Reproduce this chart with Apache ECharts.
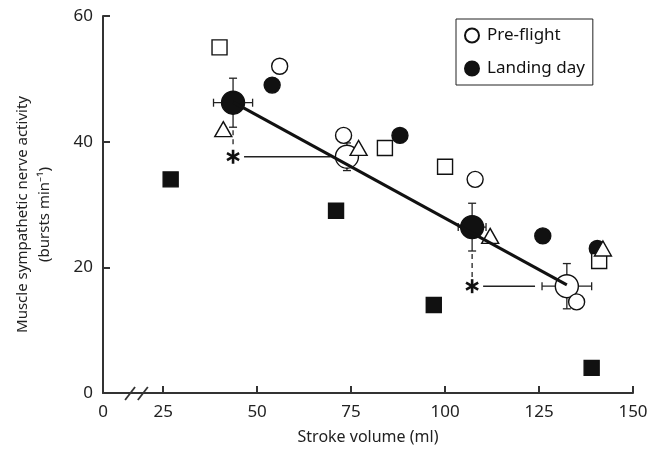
<!DOCTYPE html>
<html>
<head>
<meta charset="utf-8">
<style>
  html, body { margin: 0; padding: 0; background: #fff; }
  #chart { width: 660px; height: 456px; }
</style>
<script src="https://cdn.jsdelivr.net/npm/echarts@6/dist/echarts.min.js"></script>
</head>
<body>
<div id="chart"></div>
<script>
// broken x axis: value xMin sits on the y axis and is labelled "0"
const xMin = 9;
const xTickValues = [xMin, 25, 50, 75, 100, 125, 150];
const xTickLabels = ['0', '25', '50', '75', '100', '125', '150'];
const yTicks = [0, 20, 40, 60];
const breakMarks = [[16.2, 0], [19.6, 0]];

// individual subjects [stroke volume, MSNA]
const openSquares = [[40, 55], [84, 39], [100, 36], [141, 21]];
const openCircles = [[56, 52], [73, 41], [108, 34], [135, 14.5]];
const openTriangles = [[41, 42], [77, 39], [112, 25], [142, 23]];
const filledSquares = [[27, 34], [71, 29], [97, 14], [139, 4]];
const filledCircles = [[54, 49], [88, 41], [126, 25], [140.5, 23]];

// group means [x, y, xErr, yErr]
const preflightMean = [[73.9, 37.6, 2.5, 2.2], [132.4, 17.0, 6.6, 3.6]];
const landingMean = [[43.6, 46.2, 5.2, 3.9], [107.2, 26.4, 3.7, 3.8]];
const regressionLine = [[43.6, 46.3], [132.4, 17.2]];

// asterisk links: landing mean x, bottom of its error bar, left end of preflight error bar, preflight y
const comparisons = landingMean.map((l, i) => {
  const p = preflightMean[i];
  return [l[0], l[1] - l[3], p[0] - p[2], p[1]];
});

const ink = '#111';
const font = 'Noto Sans';

function seg(x1, y1, x2, y2, style) {
  return { type: 'line', shape: { x1, y1, x2, y2 }, style };
}

function renderErrorBars(params, api) {
  const x = api.value(0), y = api.value(1), ex = api.value(2), ey = api.value(3);
  const c = api.coord([x, y]);
  const l = api.coord([x - ex, y]);
  const r = api.coord([x + ex, y]);
  const t = api.coord([x, y + ey]);
  const b = api.coord([x, y - ey]);
  const cap = 4;
  const st = { stroke: '#222', lineWidth: 1.3 };
  return {
    type: 'group',
    children: [
      seg(l[0], c[1], r[0], c[1], st),
      seg(l[0], c[1] - cap, l[0], c[1] + cap, st),
      seg(r[0], c[1] - cap, r[0], c[1] + cap, st),
      seg(c[0], t[1], c[0], b[1], st),
      seg(c[0] - cap, t[1], c[0] + cap, t[1], st),
      seg(c[0] - cap, b[1], c[0] + cap, b[1], st)
    ]
  };
}

function renderComparison(params, api) {
  const star = api.coord([api.value(0), api.value(3)]);
  const top = api.coord([api.value(0), api.value(1)]);
  const end = api.coord([api.value(2), api.value(3)]);
  const children = [
    seg(star[0], top[1] + 3, star[0], star[1] - 9, { stroke: '#222', lineWidth: 1.3, lineDash: [5, 4] }),
    seg(star[0] + 11, star[1], end[0] - 7, star[1], { stroke: '#222', lineWidth: 1.5 })
  ];
  [90, 30, 150].forEach(a => {
    const rad = a * Math.PI / 180, r = 7;
    children.push(seg(star[0] - r * Math.cos(rad), star[1] - r * Math.sin(rad),
      star[0] + r * Math.cos(rad), star[1] + r * Math.sin(rad), { stroke: ink, lineWidth: 2.6 }));
  });
  return { type: 'group', children };
}

function renderBreak(params, api) {
  const p = api.coord([api.value(0), api.value(1)]);
  return seg(p[0] - 5, p[1] + 7, p[0] + 5, p[1] - 6, { stroke: '#333', lineWidth: 1.8 });
}

function scatter(name, data, symbol, size, filled) {
  return {
    name, type: 'scatter', data, symbol, symbolSize: size,
    itemStyle: { color: filled ? ink : '#fff', borderColor: ink, borderWidth: 1.4, opacity: 1 }
  };
}

const chart = echarts.init(document.getElementById('chart'));
chart.setOption({
  animation: false,
  backgroundColor: '#fff',
  grid: { left: 103, right: 27, top: 16, bottom: 63, containLabel: false, outerBoundsMode: 'none' },
  legend: {
    data: ['Pre-flight', 'Landing day'],
    orient: 'vertical',
    left: 456, top: 19,
    padding: [7, 8, 7, 8],
    itemGap: 14,
    itemWidth: 14, itemHeight: 14,
    icon: 'circle',
    borderColor: '#222', borderWidth: 1,
    textStyle: { fontFamily: font, fontSize: 17, color: ink, lineHeight: 19, padding: [0, 0, 0, 3] }
  },
  xAxis: {
    type: 'value', min: xMin, max: 150,
    name: 'Stroke volume (ml)', nameLocation: 'middle', nameGap: 36,
    nameTextStyle: { fontFamily: font, fontSize: 16, color: '#222' },
    axisLine: { lineStyle: { color: '#333', width: 2 } },
    axisTick: { inside: true, length: 7, lineStyle: { color: '#333', width: 2 }, customValues: xTickValues.slice(1) },
    axisLabel: {
      customValues: xTickValues, margin: 11,
      fontFamily: font, fontSize: 17, color: '#222',
      formatter: v => xTickLabels[xTickValues.indexOf(v)]
    },
    splitLine: { show: false }
  },
  yAxis: {
    type: 'value', min: yTicks[0], max: yTicks[yTicks.length - 1], interval: 20,
    name: 'Muscle sympathetic nerve activity\n(bursts min⁻¹)',
    nameLocation: 'middle', nameRotate: 90, nameGap: 47,
    nameTextStyle: { fontFamily: font, fontSize: 15, color: '#222', lineHeight: 22, align: 'center', padding: [0, 20, 0, 0] },
    axisLine: { show: true, lineStyle: { color: '#333', width: 2 } },
    axisTick: { show: true, inside: true, length: 7, lineStyle: { color: '#333', width: 2 } },
    axisLabel: { margin: 10, fontFamily: font, fontSize: 17, color: '#222' },
    splitLine: { show: false }
  },
  series: [
    {
      type: 'custom', renderItem: renderBreak, data: breakMarks, clip: false, silent: true
    },
    {
      type: 'line', data: regressionLine, symbol: 'none',
      lineStyle: { color: ink, width: 3 }
    },
    {
      type: 'custom', renderItem: renderErrorBars, data: landingMean.concat(preflightMean),
      encode: { x: 0, y: 1 }, silent: true
    },
    {
      type: 'custom', renderItem: renderComparison, data: comparisons,
      encode: { x: 0, y: 1 }, silent: true
    },
    scatter('Pre-flight', preflightMean.map(d => [d[0], d[1]]), 'circle', 23, false),
    scatter('Landing day', landingMean.map(d => [d[0], d[1]]), 'circle', 23, true),
    scatter('filled circles', filledCircles, 'circle', 16, true),
    scatter('filled squares', filledSquares, 'rect', 15, true),
    scatter('open squares', openSquares, 'rect', 15, false),
    scatter('open circles', openCircles, 'circle', 16, false),
    scatter('open triangles', openTriangles, 'triangle', [17, 15], false)
  ]
});
</script>
</body>
</html>
